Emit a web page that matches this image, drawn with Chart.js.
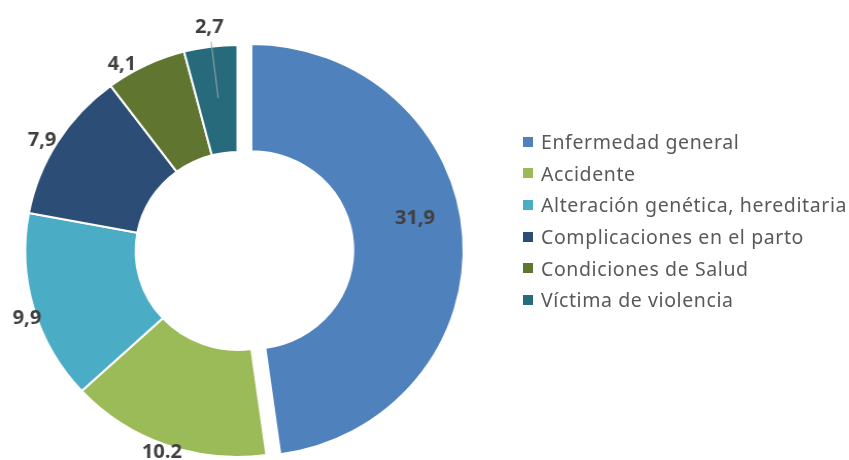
<!DOCTYPE html>
<html>
<head>
<meta charset="utf-8">
<script src="https://cdn.jsdelivr.net/npm/chart.js@4.4.1/dist/chart.umd.min.js"></script>
<style>
  html, body { margin: 0; padding: 0; background: #ffffff; }
  #wrap { position: relative; width: 849px; height: 460px; overflow: hidden; }
  #c { position: absolute; left: 0; top: 0; transform-origin: 0 0; }
  #legend { position: absolute; left: 523px; top: 126px; font-family: "Noto Sans", "Open Sans", sans-serif; font-size: 19.5px; letter-spacing: 0.6px; color: #595959; }
  .item { height: 31.6px; display: flex; align-items: center; white-space: nowrap; }
  .sw { width: 10px; height: 10px; margin-right: 8px; flex: 0 0 auto; }
</style>
</head>
<body>
<div id="wrap">
  <canvas id="c" width="824" height="460"></canvas>
  <div id="legend"></div>
</div>
<script>
const categories = ["Enfermedad general", "Accidente", "Alteración genética, hereditaria", "Complicaciones en el parto", "Condiciones de Salud", "Víctima de violencia"];
const values = [31.9, 10.2, 9.9, 7.9, 4.1, 2.7];
const valueLabels = ["31,9", "10.2", "9,9", "7,9", "4,1", "2,7"];
const colors = ["#4F81BD", "#9BBB59", "#4BACC6", "#2C4D75", "#5F7530", "#276A7C"];
const explode = [13.5, 0, 0, 0, 0, 0];
// label placement (style): angle shift in degrees from slice middle, radius in css px
const labelPlacement = [
  { da: -6.6, r: 180.5 },
  { da: 0.9, r: 214.7 },
  { da: -1.6, r: 221 },
  { da: -2.4, r: 224.8 },
  { da: -6.1, r: 219.8 },
  { da: 0.1, r: 225.5, leader: [210.8, 154.2] }
];

const canvas = document.getElementById('c');
const sx = 849 / canvas.width; // horizontal stretch of the picture
canvas.style.transform = 'scaleX(' + sx + ')';

const legend = document.getElementById('legend');
categories.forEach((name, i) => {
  const it = document.createElement('div');
  it.className = 'item';
  const sw = document.createElement('span');
  sw.className = 'sw';
  sw.style.background = colors[i];
  const tx = document.createElement('span');
  tx.textContent = name;
  it.appendChild(sw); it.appendChild(tx);
  legend.appendChild(it);
});

const labelPlugin = {
  id: 'sliceLabels',
  afterDatasetsDraw(chart) {
    const ctx = chart.ctx;
    const meta = chart.getDatasetMeta(0);
    ctx.save();
    ctx.scale(1 / sx, 1);
    ctx.font = 'bold 20px "Open Sans", "Noto Sans", sans-serif';
    ctx.fillStyle = '#404040';
    ctx.textAlign = 'center';
    ctx.textBaseline = 'middle';
    meta.data.forEach((arc, i) => {
      const p = arc.getProps(['x', 'y', 'startAngle', 'endAngle'], true);
      const cx = p.x * sx, cy = p.y;
      const pl = labelPlacement[i];
      const mid = (p.startAngle + p.endAngle) / 2;
      const a = mid + pl.da * Math.PI / 180;
      if (pl.leader) {
        ctx.strokeStyle = '#A6A6A6';
        ctx.lineWidth = 1;
        ctx.beginPath();
        ctx.moveTo(cx + Math.cos(a) * pl.leader[0], cy + Math.sin(a) * pl.leader[0]);
        ctx.lineTo(cx + Math.cos(a) * pl.leader[1], cy + Math.sin(a) * pl.leader[1]);
        ctx.stroke();
      }
      ctx.fillText(valueLabels[i], cx + Math.cos(a) * pl.r, cy + Math.sin(a) * pl.r);
    });
    ctx.restore();
  }
};

const chart = new Chart(canvas, {
  type: 'doughnut',
  data: {
    labels: categories,
    datasets: [{
      data: values,
      backgroundColor: colors,
      borderColor: '#ffffff',
      borderWidth: 2,
      hoverOffset: 0,
      clip: false
    }]
  },
  options: {
    responsive: false,
    devicePixelRatio: 1,
    animation: false,
    radius: 206,
    cutout: '48%',
    layout: { padding: { left: 0, right: 363, top: 42, bottom: 0 } },
    plugins: { legend: { display: false }, tooltip: { enabled: false } },
    events: []
  },
  plugins: [labelPlugin]
});

// exploded slice: translate the library's own arc along its middle angle
const meta = chart.getDatasetMeta(0);
meta.data.forEach((arc, i) => {
  if (!explode[i]) return;
  const orig = arc.draw;
  arc.draw = function (ctx, area) {
    const mid = (this.startAngle + this.endAngle) / 2;
    ctx.save();
    ctx.translate(Math.cos(mid) * explode[i], Math.sin(mid) * explode[i]);
    orig.call(this, ctx, area);
    ctx.restore();
  };
});
chart.draw();
</script>
</body>
</html>
